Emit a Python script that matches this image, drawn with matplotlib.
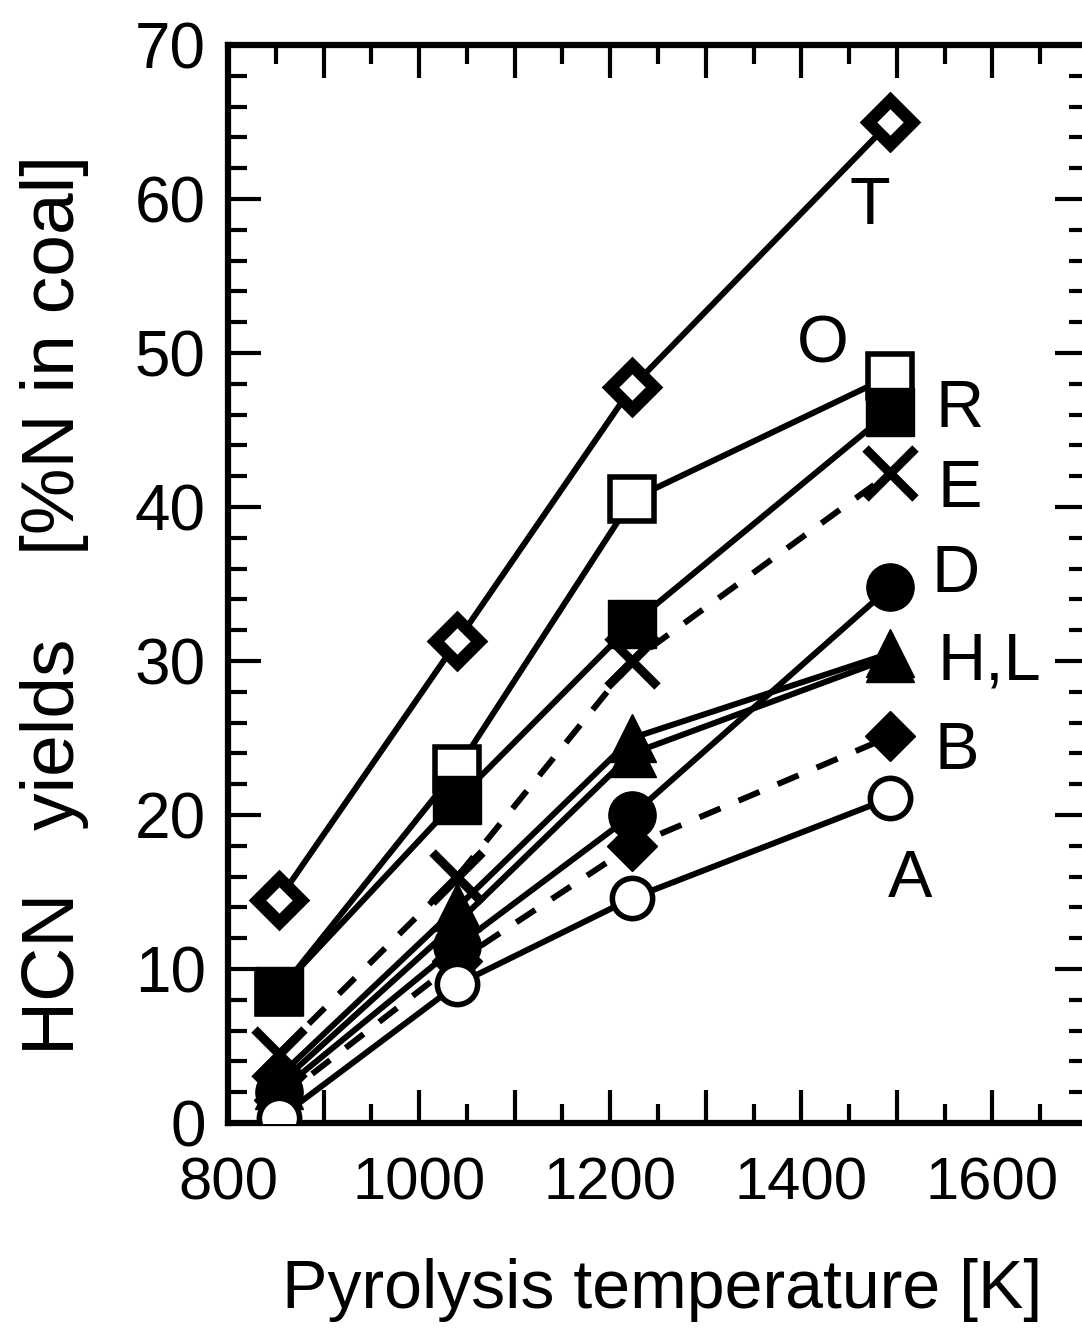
import matplotlib
matplotlib.use("Agg")
import matplotlib.pyplot as plt
from matplotlib.ticker import MultipleLocator, FuncFormatter

# ---- data ----
temps = [853, 1040, 1223, 1493]
T_vals = [14.5, 31.3, 47.8, 65.0]
O_vals = [8.5, 23.0, 40.5, 48.5]
R_vals = [8.6, 21.0, 32.4, 46.2]
E_vals = [4.5, 16.0, 30.0, 42.2]
D_vals = [2.0, 11.5, 20.0, 34.8]
H_vals = [3.0, 14.0, 25.0, 30.5]
L_vals = [2.5, 13.0, 24.0, 30.2]
B_vals = [1.5, 10.5, 18.0, 25.1]
A_vals = [0.3, 9.0, 14.6, 21.1]

labels = ["T", "O", "R", "E", "D", "H,L", "B", "A"]
label_x = [1472, 1422, 1566, 1566, 1561, 1597, 1563, 1514]
label_y = [59.5, 50.5, 46.3, 41.1, 35.6, 29.9, 24.1, 15.8]

FONT = "Liberation Sans"

fig = plt.figure(figsize=(10.82, 13.28), dpi=100)
W, H = 1082, 1328
left, right, top, bottom = 228, 1088, 45, 1123
ax = fig.add_axes([left / W, (H - bottom) / H, (right - left) / W, (bottom - top) / H])

lw = 4.3
dash = (0, (3.8, 3.3))

series = [
    (T_vals, "-", dict(marker="D", ms=22, mfc="white", mew=9)),
    (O_vals, "-", dict(marker="s", ms=32, mfc="white", mew=4)),
    (R_vals, "-", dict(marker="s", ms=34, mfc="black", mew=1)),
    (E_vals, dash, dict(marker="x", ms=36, mew=6.5)),
    (D_vals, "-", dict(marker="o", ms=34, mfc="black", mew=1)),
    (H_vals, "-", dict(marker="^", ms=34, mfc="black", mew=1)),
    (L_vals, "-", dict(marker="^", ms=34, mfc="black", mew=1)),
    (B_vals, dash, dict(marker="D", ms=25, mfc="black", mew=1)),
    (A_vals, "-", dict(marker="o", ms=29, mfc="white", mew=4)),
]

for vals, ls, mk in series:
    ax.plot(temps, vals, color="black", lw=lw, linestyle=ls, zorder=2)
for vals, ls, mk in series:
    ax.plot(temps, vals, linestyle="none", color="black", mec="black", zorder=3, **mk)

for t, x, y in zip(labels, label_x, label_y):
    ax.text(x, y, t, fontsize=48, family=FONT, ha="center", va="center")

ax.set_xlim(800, 1700)
ax.set_ylim(0, 70)
ax.xaxis.set_major_locator(MultipleLocator(100))
ax.xaxis.set_minor_locator(MultipleLocator(50))
ax.yaxis.set_major_locator(MultipleLocator(10))
ax.yaxis.set_minor_locator(MultipleLocator(2))
ax.xaxis.set_major_formatter(FuncFormatter(lambda v, p: f"{int(round(v))}" if int(round(v)) % 200 == 0 else ""))
ax.yaxis.set_major_formatter(FuncFormatter(lambda v, p: f"{int(round(v))}"))

ax.tick_params(which="both", direction="in", top=True, right=True, width=3)
ax.tick_params(which="major", length=24)
ax.tick_params(which="minor", length=14)
ax.tick_params(axis="x", which="major", pad=24, labelsize=43)
ax.tick_params(axis="y", which="major", pad=16, labelsize=46)
for lab in ax.get_xticklabels() + ax.get_yticklabels():
    lab.set_family(FONT)
for sp in ax.spines.values():
    sp.set_linewidth(4.5)

fig.text(662 / W, 1 - 1290 / H, "Pyrolysis temperature [K]", fontsize=49, family=FONT,
         ha="center", va="center")
fig.text(55 / W, 1 - 605 / H, "HCN   yields    [%N in coal]", fontsize=54, family=FONT,
         rotation=90, ha="center", va="center")

fig.savefig("out.png", dpi=100)
